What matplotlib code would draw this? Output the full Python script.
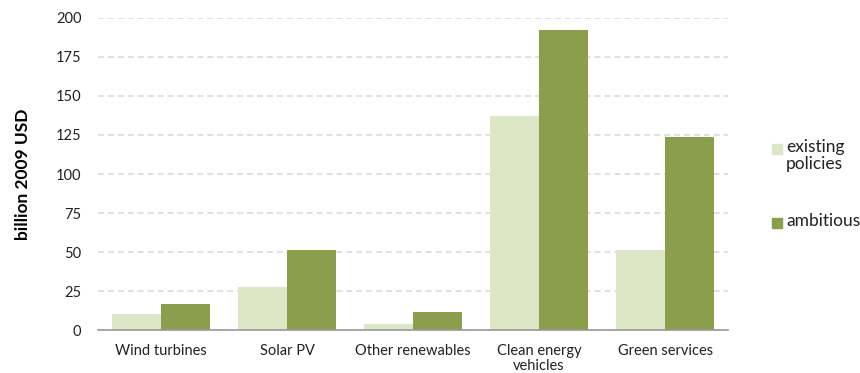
import numpy as np
import matplotlib

matplotlib.use("Agg")
import matplotlib.pyplot as plt
from matplotlib.patches import Rectangle

plt.rcParams['font.family'] = ['Lato', 'DejaVu Sans']

# investment by sector, billion 2009 USD
categories = ["Wind turbines", "Solar PV", "Other renewables", "Clean energy\nvehicles", "Green services"]
existing = [10, 27.5, 4, 137, 51]
ambitious = [17, 51, 11.5, 192, 123.5]
series_names = ["existing\npolicies", "ambitious"]

c_existing = "#dde6c7"
c_ambitious = "#8a9e4c"

W, H = 860, 373
fig = plt.figure(figsize=(W / 100, H / 100), dpi=100)
ax = fig.add_axes([0.114, 0.115, 0.7326, 0.837])

x = np.arange(len(categories))
w = 0.39
ax.bar(x - w / 2, existing, w, color=c_existing, zorder=2)
ax.bar(x + w / 2, ambitious, w, color=c_ambitious, zorder=2)

ax.set_xlim(-0.5, len(categories) - 0.5)
ax.set_ylim(0, 200)
ax.set_yticks(np.arange(0, 201, 25))
ax.set_xticks(x)
ax.set_xticklabels(categories, fontsize=10.5, color="#222222", linespacing=1.1)
ax.tick_params(axis="y", labelsize=10.5, colors="#222222", length=0, pad=12)
ax.tick_params(axis="x", length=0, pad=10)

ax.grid(axis="y", color="#d9d9d9", linestyle=(0, (4, 2.5)), linewidth=1.1, zorder=0)
for s in ["top", "right", "left"]:
    ax.spines[s].set_visible(False)
ax.spines["bottom"].set_color("#999999")
ax.spines["bottom"].set_linewidth(1.2)
ax.spines["bottom"].set_zorder(3)

ax.set_ylabel("billion 2009 USD", fontsize=12.5, fontweight="bold", labelpad=18)

# legend: square aligned with the first text line
leg_colors = [c_existing, c_ambitious]
leg_y = [149, 223]
for name, col, yy in zip(series_names, leg_colors, leg_y):
    fig.patches.append(Rectangle((772 / W, 1 - (yy + 5) / H), 10 / W, 10 / H,
                                 transform=fig.transFigure, color=col))
    fig.text(786 / W, 1 - (yy - 10) / H, name, fontsize=12.5, va="top", ha="left",
             color="#222222", linespacing=1.05)

fig.savefig("out.png", dpi=100)
